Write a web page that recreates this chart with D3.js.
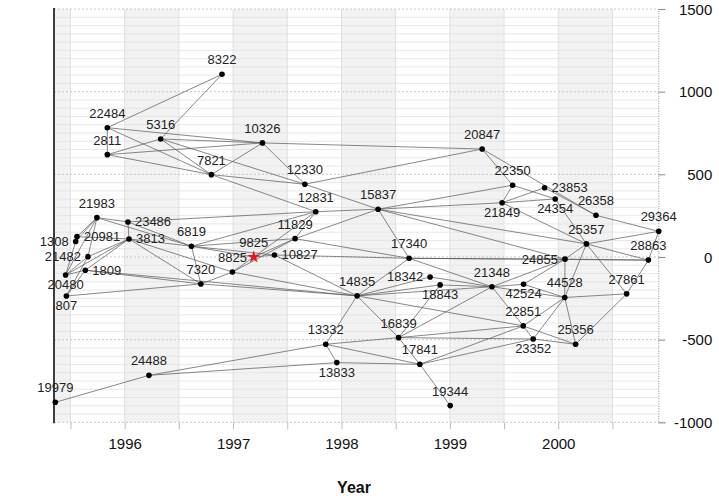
<!DOCTYPE html>
<html><head><meta charset="utf-8">
<script src="https://cdn.jsdelivr.net/npm/d3@7"></script>
<style>body{margin:0;background:#fff} svg{display:block} text{font-family:"Liberation Sans",Arial,sans-serif}</style>
</head><body><svg id="chart" width="719" height="496"></svg>
<script>
// ---- data ----
const nodeIds = ["8322","22484","5316","2811","10326","7821","12330","12831","21983","23486","20981","1308","3813","21482","1809","20480","807","6819","7320","11829","9825","10827","8825","14835","20847","22350","21849","15837","17340","18342","18843","21348","42524","23853","24354","26358","29364","25357","28863","24855","44528","27861","22851","23352","25356","16839","13332","13833","17841","19344","24488","19979"];
const nodeYears = [1996.898,1995.840,1996.332,1995.840,1997.271,1996.800,1997.662,1997.763,1995.744,1996.030,1995.560,1995.548,1996.040,1995.661,1995.637,1995.455,1995.462,1996.616,1996.703,1997.572,1997.191,1997.382,1996.994,1998.144,1999.298,1999.579,1999.482,1998.338,1998.624,1998.818,1998.910,1999.388,1999.680,1999.874,1999.972,2000.348,2000.927,2000.260,2000.832,2000.062,2000.060,2000.631,1999.677,1999.769,2000.160,1998.527,1997.855,1997.957,1998.723,1999.003,1996.224,1995.360];
const nodeValues = [1105,782,714,619,690,498,440,274,238,212,123,94,109,2,-80,-109,-236,65,-163,111,0,12,-91,-235,653,434,328,289,-8,-121,-169,-180,-165,419,351,252,155,79,-19,-13,-245,-223,-417,-496,-528,-488,-528,-639,-649,-899,-716,-879];
const focusId = "9825";
const edgeFrom = ["22484","5316","22484","22484","22484","2811","2811","2811","5316","5316","5316","7821","7821","7821","10326","10326","12330","12330","12831","23486","11829","6819","9825",
"21983","21983","21983","21983","21983","21983","23486","23486","3813","3813","3813","3813","3813","3813","3813","20981","1308","21482","21482","1809","1809","1809","807","1809",
"6819","6819","6819","6819","7320","7320","8825","8825","8825","9825","9825","10827","10827","11829","11829",
"14835","14835","14835","14835","14835","14835","14835","15837","15837","15837","15837","15837","17340","17340","17340","18342","18843","16839","16839","16839","16839","16839","13332","13332","13332","13833","17841","17841","17841","19979","24488","24488",
"20847","20847","22350","22350","21849","21849","21849","23853","24354","26358","25357","25357","25357","25357","25357","24855","24855","24855","24855","21348","21348","21348","42524","44528","44528","44528","44528","27861","27861","28863","22851","22851","23352"];
const edgeTo = ["8322","8322","2811","10326","7821","5316","10326","7821","10326","7821","12330","10326","12330","12831","12330","20847","20847","15837","15837","12831","12831","12831","12831",
"23486","20981","1308","20480","21482","6819","3813","6819","20981","21482","1809","20480","6819","7320","8825","1308","20480","20480","807","20480","807","7320","7320","14835",
"7320","11829","9825","10827","8825","14835","9825","14835","11829","10827","11829","14835","17340","15837","17340",
"13332","16839","17340","18342","18843","21348","22851","17340","22350","21849","25357","24855","21348","24855","28863","21348","21348","18843","21348","17841","22851","23352","13833","16839","17841","17841","19344","22851","23352","24488","13332","13833",
"22350","26358","21849","24354","23853","24354","25357","26358","25357","29364","29364","24855","44528","27861","28863","28863","21348","44528","42524","42524","44528","22851","44528","27861","22851","23352","25356","28863","25356","29364","23352","25356","25356"];
const labelSides = ["top","top","top","top","top","top","top","top","top","right","right","left","right","left","right","bottom","bottom","top","top","top","top","right","top","top","top","top","bottom","top","top","left","bottom","top","bottom","right","bottom","top","top","top","top","left","top","top","top","bottom","top","top","top","bottom","top","top","top","top"];
const xTickYears = [1996,1997,1998,1999,2000];
const yTickValues = [-1000,-500,0,500,1000,1500];
const xTitle = "Year";

// ---- layout ----
const W = 719, H = 496;
const L = 54, R = 658.3, T = 9, B = 422.3;
const svg = d3.select("#chart");
const x = d3.scaleLinear().domain([1995.348, 2000.923]).range([L, R]);
const y = d3.scaleLinear().domain([-1000, 1500]).range([B, T]);

svg.append("rect").attr("width", W).attr("height", H).attr("fill", "#fff");

// bands
const bandStarts = d3.range(1995, 2001);
svg.append("g").selectAll("rect").data(bandStarts).join("rect")
  .attr("x", d => Math.max(L, x(d)))
  .attr("width", d => Math.min(R, x(d + 0.5)) - Math.max(L, x(d)))
  .attr("y", T).attr("height", B - T).attr("fill", "#f2f2f2");

// horizontal minor grid
const minor = d3.range(-1000, 1501, 50).filter(v => v % 500 !== 0);
svg.append("g").selectAll("line").data(minor).join("line")
  .attr("x1", L).attr("x2", R).attr("y1", d => y(d)).attr("y2", d => y(d))
  .attr("stroke", "#e2e2e2").attr("stroke-width", 0.8);
// vertical grid
const halfYears = d3.range(1995.5, 2000.6, 0.5);
svg.append("g").selectAll("line").data(halfYears).join("line")
  .attr("x1", d => x(d)).attr("x2", d => x(d)).attr("y1", T).attr("y2", B)
  .attr("stroke", "#e0e0e0").attr("stroke-width", 1);
// major grid
svg.append("g").selectAll("line").data(yTickValues).join("line")
  .attr("x1", L).attr("x2", R).attr("y1", d => y(d)).attr("y2", d => y(d))
  .attr("stroke", "#bdbdbd").attr("stroke-width", 0.8).attr("stroke-dasharray", "2,2");

// right axis
const yAxis = d3.axisRight(y).tickValues(yTickValues).tickSize(7).tickPadding(3).tickFormat(d => String(d));
const ga = svg.append("g").attr("transform", `translate(${R},0)`).call(yAxis);
ga.select(".domain").attr("stroke", "#888").attr("stroke-dasharray", "1,1.5");
ga.selectAll(".tick line").attr("stroke", "#888");
ga.selectAll(".tick text").attr("font-size", 15).attr("fill", "#111")
  .attr("text-anchor", "end").attr("x", 54).attr("dy", "0.35em");

// bottom axis (ticks every half year, labels on whole years)
const xAxis = d3.axisBottom(x).tickValues(halfYears).tickSize(7)
  .tickFormat(d => xTickYears.includes(d) ? String(d) : "");
const gx = svg.append("g").attr("transform", `translate(0,${B})`).call(xAxis);
gx.select(".domain").remove();
gx.selectAll(".tick line").attr("stroke", "#bbb");
gx.selectAll(".tick text").attr("font-size", 15).attr("fill", "#111").attr("y", 16);

// left axis line
svg.append("line").attr("x1", L).attr("x2", L).attr("y1", T - 1).attr("y2", B + 1)
  .attr("stroke", "#000").attr("stroke-width", 1.5);

// title
svg.append("text").attr("x", 354).attr("y", 493).attr("text-anchor", "middle")
  .attr("font-size", 16).attr("font-weight", "bold").attr("fill", "#111").text(xTitle);

// nodes
const nodes = nodeIds.map((id, i) => ({id, year: nodeYears[i], value: nodeValues[i], side: labelSides[i]}));
const byId = new Map(nodes.map(n => [n.id, n]));
const edges = edgeFrom.map((f, i) => ({s: byId.get(f), t: byId.get(edgeTo[i])}));

svg.append("g").selectAll("line").data(edges).join("line")
  .attr("x1", d => x(d.s.year)).attr("y1", d => y(d.s.value))
  .attr("x2", d => x(d.t.year)).attr("y2", d => y(d.t.value))
  .attr("stroke", "#555").attr("stroke-width", 0.7);

const pts = nodes.filter(n => n.id !== focusId);
svg.append("g").selectAll("circle").data(pts).join("circle")
  .attr("cx", d => x(d.year)).attr("cy", d => y(d.value)).attr("r", 2.8).attr("fill", "#000");

const f = byId.get(focusId);
svg.append("path").attr("d", d3.symbol(d3.symbolStar, 50)())
  .attr("transform", `translate(${x(f.year)},${y(f.value)})`).attr("fill", "#e31a1c");

svg.append("g").selectAll("text").data(nodes).join("text")
  .attr("font-size", 13).attr("fill", "#222")
  .attr("x", d => x(d.year) + (d.side === "left" ? -7 : d.side === "right" ? 7 : 0))
  .attr("y", d => y(d.value) + (d.side === "top" ? -10 : d.side === "bottom" ? 14 : 4.5))
  .attr("text-anchor", d => d.side === "left" ? "end" : d.side === "right" ? "start" : "middle")
  .text(d => d.id);
</script></body></html>
